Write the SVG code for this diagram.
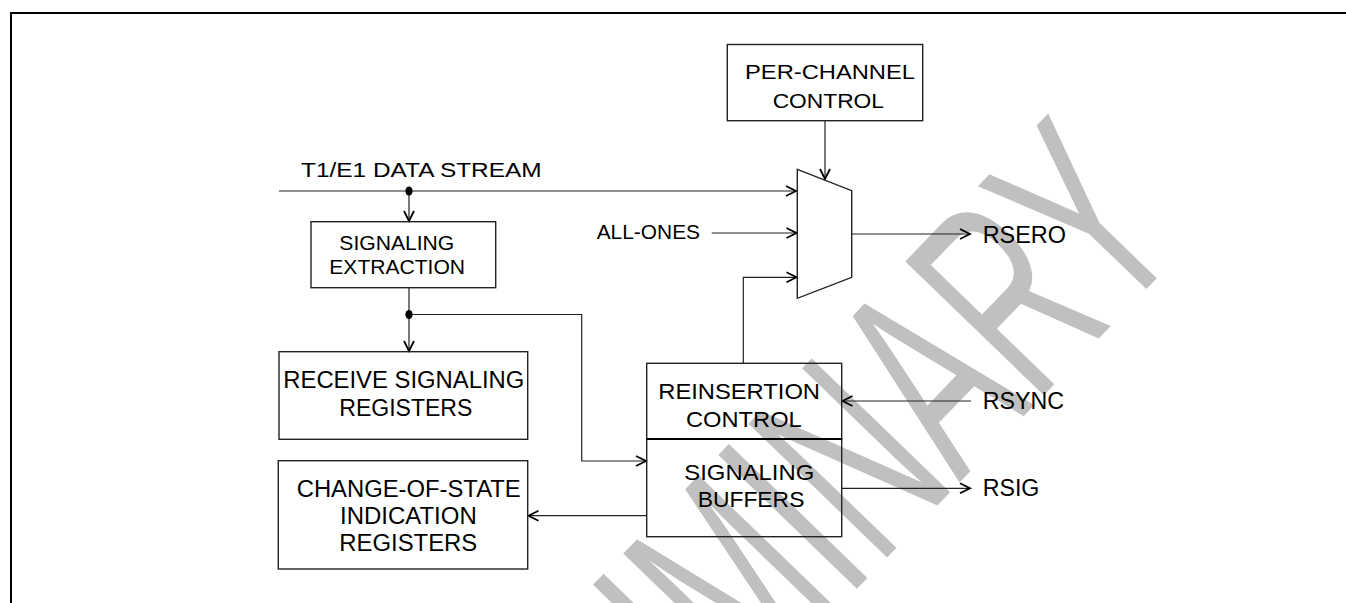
<svg xmlns="http://www.w3.org/2000/svg" width="1346" height="603" viewBox="0 0 1346 603">
<style>
.wm{font-family:"Liberation Sans",Arial,sans-serif;font-size:280px;fill:#c0c0c0}
.box{fill:none;stroke:#222;stroke-width:1.4}
.ln{fill:none;stroke:#222;stroke-width:1.2}
.t{font-family:"Liberation Sans",Arial,sans-serif;fill:#000}
</style>
<defs>
<marker id="arr" markerUnits="userSpaceOnUse" markerWidth="14" markerHeight="14" viewBox="-12 -7 14 14" refX="0" refY="0" orient="auto">
<path d="M-10,-5 L0,0 L-10,5" fill="none" stroke="#000" stroke-width="1.8"/>
</marker>
</defs>
<rect width="1346" height="603" fill="#fff"/>
<text class="wm" transform="translate(426.5,1034.5) rotate(-46) scale(0.58,1)">PRELIMINARY</text>
<rect x="11" y="13" width="1400" height="700" fill="none" stroke="#000" stroke-width="2"/>
<g id="connectors">
<line class="ln" x1="279" y1="191" x2="796" y2="191" marker-end="url(#arr)"/>
<line class="ln" x1="409" y1="191" x2="409" y2="221" marker-end="url(#arr)"/>
<line class="ln" x1="409" y1="288" x2="409" y2="351" marker-end="url(#arr)"/>
<polyline class="ln" points="409,314.5 581.7,314.5 581.7,461 646,461" marker-end="url(#arr)"/>
<line class="ln" x1="825" y1="121" x2="825" y2="179" marker-end="url(#arr)"/>
<line class="ln" x1="711.7" y1="233" x2="796.5" y2="233" marker-end="url(#arr)"/>
<polyline class="ln" points="743.3,363.3 743.3,277.3 796.5,277.3" marker-end="url(#arr)"/>
<line class="ln" x1="851.7" y1="234" x2="970" y2="234" marker-end="url(#arr)"/>
<line class="ln" x1="971" y1="401" x2="842.5" y2="401" marker-end="url(#arr)"/>
<line class="ln" x1="841.7" y1="488.3" x2="970" y2="488.3" marker-end="url(#arr)"/>
<line class="ln" x1="646.7" y1="515.7" x2="528.5" y2="515.7" marker-end="url(#arr)"/>
<ellipse cx="409" cy="191" rx="3.6" ry="4.6" fill="#000"/>
<ellipse cx="409" cy="314.5" rx="3.6" ry="4.6" fill="#000"/>
</g>
<g id="input-label">
<text class="t" x="301" y="176.7" font-size="21" textLength="240.7" lengthAdjust="spacingAndGlyphs">T1/E1 DATA STREAM</text>
</g>
<g id="all-ones">
<text class="t" x="596.7" y="239" font-size="21" textLength="103.3" lengthAdjust="spacingAndGlyphs">ALL-ONES</text>
</g>
<g id="per-channel-control">
<rect class="box" x="727.3" y="44.5" width="195.4" height="76.2"/>
<text class="t" x="745" y="79.3" font-size="20" textLength="170" lengthAdjust="spacingAndGlyphs">PER-CHANNEL</text>
<text class="t" x="772.7" y="108.3" font-size="20" textLength="111.3" lengthAdjust="spacingAndGlyphs">CONTROL</text>
</g>
<g id="mux">
<polygon class="box" points="797.3,169.3 851.7,190.7 851.7,277.3 797.3,298.3"/>
</g>
<g id="signaling-extraction">
<rect class="box" x="311" y="221.7" width="184.7" height="66"/>
<text class="t" x="339.3" y="250" font-size="20.5" textLength="115" lengthAdjust="spacingAndGlyphs">SIGNALING</text>
<text class="t" x="329.3" y="274.3" font-size="20.5" textLength="135.7" lengthAdjust="spacingAndGlyphs">EXTRACTION</text>
</g>
<g id="receive-signaling-registers">
<rect class="box" x="279" y="351.7" width="248.7" height="87.6"/>
<text class="t" x="283.3" y="388.3" font-size="23" textLength="241" lengthAdjust="spacingAndGlyphs">RECEIVE SIGNALING</text>
<text class="t" x="339.3" y="415.7" font-size="23" textLength="133" lengthAdjust="spacingAndGlyphs">REGISTERS</text>
</g>
<g id="change-of-state-registers">
<rect class="box" x="278.3" y="460.7" width="249.4" height="108.3"/>
<text class="t" x="296.7" y="497.3" font-size="23" textLength="224" lengthAdjust="spacingAndGlyphs">CHANGE-OF-STATE</text>
<text class="t" x="340" y="524" font-size="23" textLength="136.7" lengthAdjust="spacingAndGlyphs">INDICATION</text>
<text class="t" x="339.3" y="551" font-size="23" textLength="138" lengthAdjust="spacingAndGlyphs">REGISTERS</text>
</g>
<g id="reinsertion-control">
<rect class="box" x="646.7" y="363.3" width="195" height="75.7"/>
<text class="t" x="658.3" y="399.3" font-size="22" textLength="161.7" lengthAdjust="spacingAndGlyphs">REINSERTION</text>
<text class="t" x="686" y="426.7" font-size="22" textLength="115.7" lengthAdjust="spacingAndGlyphs">CONTROL</text>
</g>
<g id="signaling-buffers">
<rect class="box" x="646.7" y="439" width="195" height="97.7"/>
<line x1="646.7" y1="439" x2="841.7" y2="439" stroke="#000" stroke-width="2.2"/>
<text class="t" x="684.3" y="480" font-size="22" textLength="130" lengthAdjust="spacingAndGlyphs">SIGNALING</text>
<text class="t" x="697.7" y="507.3" font-size="22" textLength="106.7" lengthAdjust="spacingAndGlyphs">BUFFERS</text>
</g>
<g id="rsero">
<text class="t" x="982.7" y="242.7" font-size="23" textLength="83.3" lengthAdjust="spacingAndGlyphs">RSERO</text>
</g>
<g id="rsync">
<text class="t" x="982.7" y="409.3" font-size="23" textLength="81.3" lengthAdjust="spacingAndGlyphs">RSYNC</text>
</g>
<g id="rsig">
<text class="t" x="982.7" y="496" font-size="23" textLength="56.7" lengthAdjust="spacingAndGlyphs">RSIG</text>
</g>
</svg>
